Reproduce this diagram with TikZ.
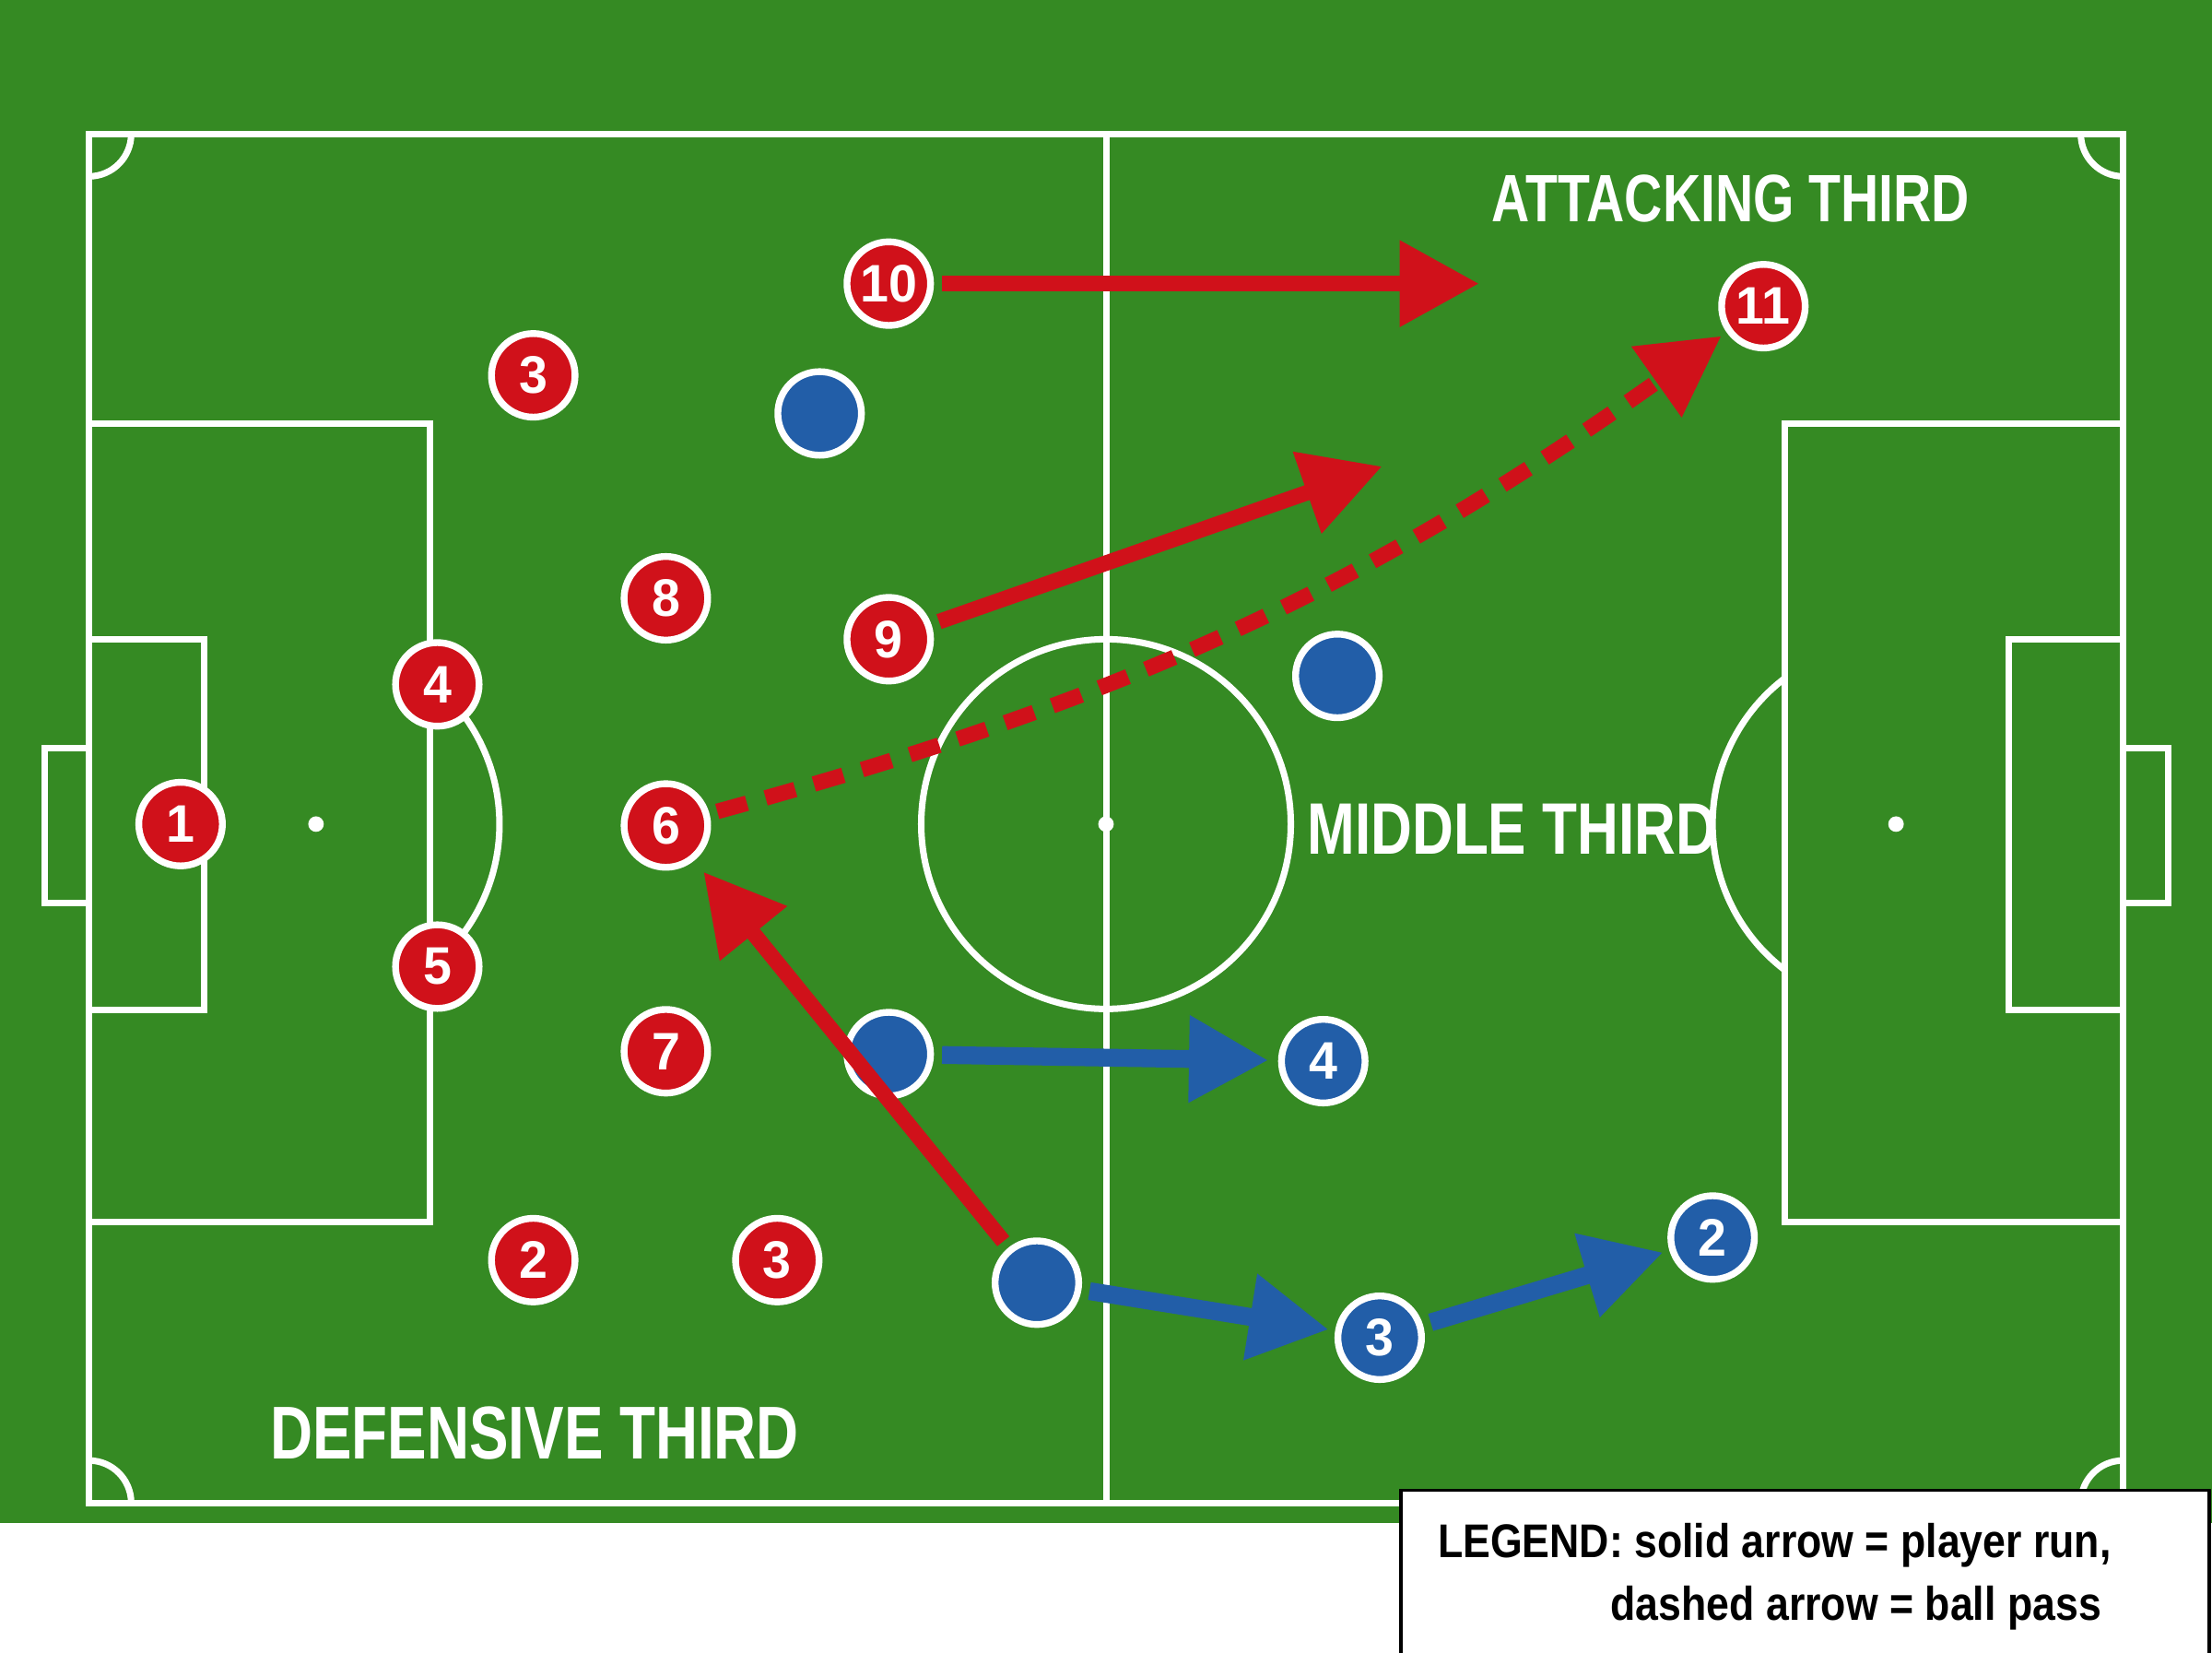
\documentclass[tikz,border=0pt]{standalone}
\usepackage{fontspec}
\setmainfont{Liberation Sans}
\newfontfamily\labfont{Liberation Sans}[FakeStretch=0.785]
\newfontfamily\legfont{Liberation Sans}[FakeStretch=0.87]
\newfontfamily\numfont{Liberation Sans}[FakeStretch=0.97]
\usetikzlibrary{arrows.meta}
\definecolor{pitchgreen}{RGB}{53,138,35}
\definecolor{pred}{RGB}{208,17,26}
\definecolor{pblue}{RGB}{34,94,168}
\begin{document}
\begin{tikzpicture}[x=0.015306cm,y=-0.015306cm,
  pline/.style={draw=white, line width=2pt},
  player/.style={circle, draw=white, line width=2.1pt, minimum size=25.8pt, inner sep=0pt,
    text=white, font=\numfont\bfseries\fontsize{16.3}{16.3}\selectfont},
  redp/.style={player, fill=pred},
  bluep/.style={player, fill=pblue},
  tip/.style={-{Triangle[length=24.5pt,width=25.5pt]}},
  runr/.style={draw=pred, line width=4.8pt, tip, shorten <=2.5pt, shorten >=2pt},
  runb/.style={draw=pblue, line width=5.5pt, tip, shorten <=2.5pt, shorten >=2pt},
  pass/.style={runr, dash pattern=on 9.5pt off 6pt},
  zone/.style={text=white, font=\labfont\bfseries\fontsize{#1}{#1}\selectfont, anchor=base, inner sep=0pt},
  legtext/.style={text=black, font=\legfont\bfseries\fontsize{14.6}{14.6}\selectfont, anchor=base east, inner sep=0pt}
]
\useasboundingbox (0,0) rectangle (1568,1171);
\fill[white] (0,0) rectangle (1568,1171);
\fill[pitchgreen] (0,0) rectangle (1568,1079);

% pitch markings
\draw[pline] (63,95) rectangle (1505,1065);
\draw[pline] (784,95) -- (784,1065);
\draw[pline] (784,584) circle (131);
\fill[white] (784,584) circle (5.5);
% left end
\draw[pline] (63,300) rectangle (305,866);
\draw[pline] (63,453) rectangle (145,716);
\draw[pline] (63,530) -- (32,530) -- (32,640) -- (63,640);
\fill[white] (224,584) circle (5.5);
\draw[pline] (305,482.3) arc[start angle=-51.5, end angle=51.5, radius=130];
% right end
\draw[pline] (1265,300) rectangle (1505,866);
\draw[pline] (1424,453) rectangle (1505,716);
\draw[pline] (1505,530) -- (1537,530) -- (1537,640) -- (1505,640);
\fill[white] (1344,584) circle (5.5);
\draw[pline] (1265,687.3) arc[start angle=127.4, end angle=232.6, radius=130];
% corners
\draw[pline] (93,95) arc[start angle=0, end angle=90, radius=30];
\draw[pline] (1475,95) arc[start angle=180, end angle=90, radius=30];
\draw[pline] (93,1065) arc[start angle=0, end angle=-90, radius=30];
\draw[pline] (1475,1065) arc[start angle=180, end angle=270, radius=30];

% zone labels
\node[zone=20.7] (attlab) at (1227,157) {ATTACKING THIRD};
\node[zone=22.5] (midlab) at (1072,605) {MIDDLE THIRD};
\node[zone=23.1] (deflab) at (379,1034) {DEFENSIVE THIRD};

% red players
\node[redp] (r1) at (128,584) {1};
\node[redp] (r3a) at (378,266) {3};
\node[redp] (r10) at (630,201) {10};
\node[redp] (r11) at (1250,217) {11};
\node[redp] (r8) at (472,424) {8};
\node[redp] (r9) at (630,453) {9};
\node[redp] (r4) at (310,485) {4};
\node[redp] (r6) at (472,585) {6};
\node[redp] (r5) at (310,685) {5};
\node[redp] (r7) at (472,745) {7};
\node[redp] (r2) at (378,893) {2};
\node[redp] (r3b) at (551,893) {3};

% blue players
\node[bluep] (b1) at (581,293) {};
\node[bluep] (b2) at (948,479) {};
\node[bluep] (b3) at (630,747) {};
\node[bluep] (b4) at (735,909) {};
\node[bluep] (bl4) at (938,752) {4};
\node[bluep] (bl3) at (978,948) {3};
\node[bluep] (bl2) at (1214,877) {2};

% free ends of runs
\coordinate (t10) at (1053,201);
\coordinate (t9) at (984,329);

% arrows
\draw[runr] (r10) -- (t10);
\draw[runr] (r9) -- (t9);
\draw[pass] (r6) to[bend right=10] (r11);
\draw[runr, shorten >=4.5pt] (b4) -- (r6);
\draw[runb, shorten >=3pt] (b3) -- (bl4);
\draw[runb] (b4) -- (bl3);
\draw[runb] (bl3) -- (bl2);

% legend
\draw[black, line width=1pt, fill=white] (993,1056) rectangle (1566,1190);
\node[legtext] (leg1) at (1497,1104) {LEGEND: solid arrow = player run,};
\node[legtext] (leg2) at (1490,1148) {dashed arrow = ball pass};
\end{tikzpicture}
\end{document}
